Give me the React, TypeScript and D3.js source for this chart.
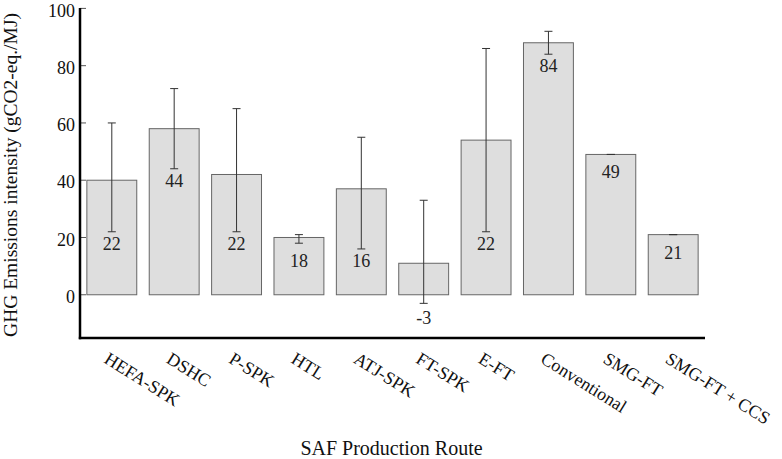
import React from "react";
import * as d3 from "d3";

const categories = [
  "HEFA-SPK", "DSHC", "P-SPK", "HTL", "ATJ-SPK",
  "FT-SPK", "E-FT", "Conventional", "SMG-FT", "SMG-FT + CCS",
];
const meanValues = [40, 58, 42, 20, 37, 11, 54, 88, 49, 21];
const minValues = [22, 44, 22, 18, 16, -3, 22, 84, 49, 21];
const maxValues = [60, 72, 65, 21, 55, 33, 86, 92, 49, 21];
const yTicks = [0, 20, 40, 60, 80, 100];

const W = 782;
const H = 459;
const FONT = "'Liberation Serif', 'Times New Roman', serif";

export default function App() {
  const left = 80;
  const right = 705;
  const top = 8.4;
  const bottom = 338;

  const x = d3.scaleBand<string>().domain(categories).range([left, right]).paddingInner(0.2).paddingOuter(0.11);
  const y = d3.scaleLinear().domain([-15.1, 100]).range([bottom, top]);
  const bw = x.bandwidth();

  return (
    <svg width={W} height={H} style={{ position: "absolute", left: 0, top: 0, background: "#fff" }} fontFamily={FONT}>
      {/* inward ticks */}
      {yTicks.map((t) => (
        <line key={"t" + t} x1={left} x2={left + 6} y1={y(t)} y2={y(t)} stroke="#555" strokeWidth={1} />
      ))}
      {/* bars */}
      {categories.map((c, i) => {
        const x0 = x(c)!;
        const v = meanValues[i];
        return (
          <rect key={"b" + c} x={x0} y={y(Math.max(v, 0))} width={bw} height={Math.abs(y(v) - y(0))}
            fill="#dedede" stroke="#666" strokeWidth={1} />
        );
      })}
      {/* error bars */}
      {categories.map((c, i) => {
        const cx = x(c)! + bw / 2;
        const y1 = y(maxValues[i]);
        const y2 = y(minValues[i]);
        return (
          <g key={"e" + c} stroke="#333" strokeWidth={1}>
            <line x1={cx} x2={cx} y1={y1} y2={y2} />
            <line x1={cx - 4} x2={cx + 4} y1={y1} y2={y1} />
            <line x1={cx - 4} x2={cx + 4} y1={y2} y2={y2} />
          </g>
        );
      })}
      {/* value labels (minimum) */}
      {categories.map((c, i) => {
        const cx = x(c)! + bw / 2;
        const mn = minValues[i];
        const off = maxValues[i] - mn < 5 ? 24 : mn < 0 ? 21 : 18;
        return (
          <text key={"l" + c} x={cx} y={y(mn) + off} textAnchor="middle" fontSize={18} fill="#222">
            {mn}
          </text>
        );
      })}
      {/* axes */}
      <line x1={left} x2={left} y1={top - 0.5} y2={bottom + 1.2} stroke="#000" strokeWidth={2.5} />
      <line x1={left - 1.2} x2={right} y1={bottom} y2={bottom} stroke="#000" strokeWidth={2.5} />
      {yTicks.map((t) => (
        <text key={"yl" + t} x={left - 5} y={y(t)} dy="0.45em" textAnchor="end" fontSize={18} fill="#111">
          {t}
        </text>
      ))}
      {categories.map((c) => {
        const ax = x(c)! + bw / 2 - 2;
        const ay = bottom + 13;
        return (
          <text key={"xl" + c} transform={`translate(${ax},${ay}) rotate(32)`} dy="0.72em" textAnchor="start" fontSize={18} fill="#111">
            {c}
          </text>
        );
      })}
      <text transform={`translate(17,175) rotate(-90)`} textAnchor="middle" fontSize={19.5} fill="#111">
        GHG Emissions intensity (gCO2-eq./MJ)
      </text>
      <text x={391.5} y={455} textAnchor="middle" fontSize={20} fill="#111">
        SAF Production Route
      </text>
    </svg>
  );
}
